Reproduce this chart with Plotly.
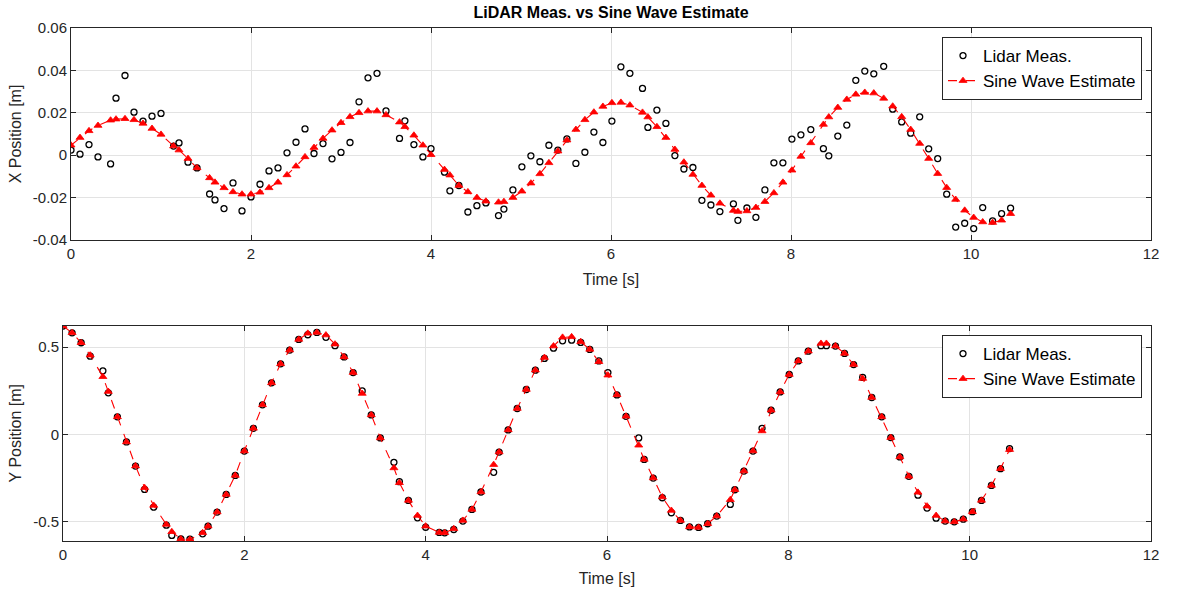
import plotly.graph_objects as go
from plotly.subplots import make_subplots

time_s = [0.00, 0.10, 0.20, 0.30, 0.44, 0.50, 0.60, 0.70, 0.80, 0.90,
          1.00, 1.14, 1.20, 1.30, 1.40, 1.54, 1.60, 1.70, 1.80, 1.90,
          2.00, 2.10, 2.20, 2.30, 2.40, 2.50, 2.60, 2.70, 2.80, 2.90,
          3.00, 3.10, 3.20, 3.30, 3.40, 3.50, 3.65, 3.71, 3.81, 3.91,
          4.00, 4.15, 4.21, 4.31, 4.41, 4.51, 4.61, 4.75, 4.81, 4.91,
          5.01, 5.11, 5.21, 5.31, 5.41, 5.51, 5.61, 5.71, 5.81, 5.91,
          6.01, 6.11, 6.21, 6.35, 6.41, 6.51, 6.61, 6.71, 6.81, 6.91,
          7.01, 7.11, 7.21, 7.36, 7.41, 7.51, 7.61, 7.71, 7.81, 7.91,
          8.01, 8.11, 8.22, 8.36, 8.42, 8.52, 8.62, 8.72, 8.82, 8.92,
          9.03, 9.13, 9.23, 9.33, 9.43, 9.53, 9.63, 9.73, 9.83, 9.93,
          10.03, 10.13, 10.24, 10.34, 10.44]

x_meas = [0.0024, 0.0005, 0.0050, -0.0008, -0.0041, 0.0269, 0.0376, 0.0203, 0.0161, 0.0184,
          0.0197, 0.0043, 0.0058, -0.0033, -0.0060, -0.0183, -0.0211, -0.0252, -0.0131, -0.0263,
          -0.0197, -0.0137, -0.0074, -0.0060, 0.0011, 0.0061, 0.0124, 0.0008, 0.0055, -0.0017,
          0.0013, 0.0060, 0.0252, 0.0365, 0.0386, 0.0209, 0.0079, 0.0162, 0.0050, -0.0008,
          0.0031, -0.0080, -0.0168, -0.0143, -0.0268, -0.0238, -0.0225, -0.0285, -0.0254, -0.0164,
          -0.0055, -0.0003, -0.0031, 0.0047, 0.0024, 0.0077, -0.0039, 0.0014, 0.0109, 0.0060,
          0.0161, 0.0417, 0.0386, 0.0315, 0.0131, 0.0213, 0.0150, -0.0002, -0.0065, -0.0058,
          -0.0213, -0.0235, -0.0266, -0.0230, -0.0307, -0.0249, -0.0293, -0.0164, -0.0036, -0.0036,
          0.0076, 0.0096, 0.0121, 0.0031, -0.0003, 0.0090, 0.0142, 0.0353, 0.0397, 0.0384,
          0.0419, 0.0217, 0.0157, 0.0104, 0.0181, 0.0030, -0.0016, -0.0184, -0.0339, -0.0321,
          -0.0346, -0.0247, -0.0310, -0.0276, -0.0250]

x_est = [0.0047, 0.0083, 0.0115, 0.0140, 0.0165, 0.0170, 0.0172, 0.0167, 0.0150, 0.0126,
         0.0098, 0.0043, 0.0024, -0.0016, -0.0060, -0.0107, -0.0128, -0.0154, -0.0173, -0.0184,
         -0.0184, -0.0175, -0.0154, -0.0128, -0.0093, -0.0052, -0.0008, 0.0036, 0.0079, 0.0118,
         0.0153, 0.0181, 0.0200, 0.0208, 0.0208, 0.0190, 0.0156, 0.0134, 0.0094, 0.0047,
         0.0002, -0.0068, -0.0094, -0.0143, -0.0173, -0.0200, -0.0217, -0.0222, -0.0219, -0.0200,
         -0.0170, -0.0132, -0.0088, -0.0036, 0.0019, 0.0071, 0.0121, 0.0167, 0.0203, 0.0230,
         0.0247, 0.0249, 0.0236, 0.0202, 0.0180, 0.0134, 0.0083, 0.0027, -0.0033, -0.0091,
         -0.0143, -0.0189, -0.0227, -0.0261, -0.0266, -0.0263, -0.0247, -0.0219, -0.0178, -0.0128,
         -0.0071, -0.0006, 0.0058, 0.0145, 0.0180, 0.0225, 0.0263, 0.0287, 0.0296, 0.0293,
         0.0268, 0.0231, 0.0181, 0.0121, 0.0055, -0.0016, -0.0087, -0.0153, -0.0209, -0.0260,
         -0.0294, -0.0315, -0.0318, -0.0307, -0.0276]

y_meas = [0.621, 0.582, 0.525, 0.448, 0.364, 0.238, 0.100, -0.044, -0.182, -0.316,
          -0.418, -0.521, -0.580, -0.600, -0.602, -0.571, -0.527, -0.446, -0.345, -0.236,
          -0.096, 0.034, 0.169, 0.295, 0.404, 0.483, 0.544, 0.571, 0.584, 0.556,
          0.508, 0.444, 0.354, 0.249, 0.111, -0.021, -0.161, -0.272, -0.379, -0.479,
          -0.533, -0.563, -0.565, -0.546, -0.498, -0.431, -0.331, -0.218, -0.102, 0.025,
          0.148, 0.257, 0.368, 0.435, 0.494, 0.536, 0.540, 0.527, 0.487, 0.421,
          0.354, 0.226, 0.103, -0.021, -0.144, -0.251, -0.364, -0.450, -0.494, -0.531,
          -0.534, -0.513, -0.469, -0.402, -0.318, -0.211, -0.096, 0.034, 0.138, 0.243,
          0.343, 0.421, 0.477, 0.508, 0.508, 0.506, 0.464, 0.400, 0.326, 0.211,
          0.100, -0.019, -0.130, -0.241, -0.349, -0.423, -0.481, -0.498, -0.502, -0.487,
          -0.444, -0.379, -0.293, -0.197, -0.082]

y_est = [0.621, 0.582, 0.525, 0.454, 0.330, 0.245, 0.100, -0.044, -0.182, -0.306,
         -0.408, -0.517, -0.559, -0.600, -0.603, -0.565, -0.527, -0.446, -0.345, -0.236,
         -0.096, 0.034, 0.169, 0.295, 0.404, 0.483, 0.544, 0.579, 0.584, 0.569,
         0.517, 0.444, 0.354, 0.234, 0.111, -0.021, -0.193, -0.278, -0.379, -0.466,
         -0.527, -0.563, -0.565, -0.542, -0.494, -0.431, -0.331, -0.174, -0.102, 0.025,
         0.148, 0.257, 0.368, 0.440, 0.506, 0.556, 0.559, 0.531, 0.487, 0.416,
         0.339, 0.226, 0.103, -0.063, -0.144, -0.251, -0.360, -0.437, -0.494, -0.531,
         -0.534, -0.513, -0.469, -0.375, -0.318, -0.211, -0.096, 0.019, 0.138, 0.243,
         0.343, 0.421, 0.477, 0.521, 0.521, 0.506, 0.464, 0.400, 0.320, 0.211,
         0.100, -0.019, -0.130, -0.241, -0.333, -0.412, -0.466, -0.498, -0.502, -0.487,
         -0.444, -0.379, -0.293, -0.197, -0.088]

x_ticks = [0, 2, 4, 6, 8, 10, 12]
top_yticks = [-0.04, -0.02, 0, 0.02, 0.04, 0.06]
top_yticktext = ["-0.04", "-0.02", "0", "0.02", "0.04", "0.06"]
bot_yticks = [-0.5, 0, 0.5]
bot_yticktext = ["-0.5", "0", "0.5"]

FONT = "Liberation Sans, Arial, sans-serif"
AX = "#262626"
W, H = 1178, 593

fig = make_subplots(rows=2, cols=1)

for row, (meas, est, leg) in enumerate([(x_meas, x_est, "legend"), (y_meas, y_est, "legend2")], start=1):
    fig.add_trace(go.Scatter(
        x=time_s, y=meas, mode="markers", name="Lidar Meas.",
        marker=dict(symbol="circle-open", size=6, color="black", line=dict(width=1.3, color="black")),
        legend=leg), row=row, col=1)
    fig.add_trace(go.Scatter(
        x=time_s, y=est, mode="lines+markers", name="Sine Wave Estimate",
        line=dict(color="#ff0000", width=1.1, dash="dash"),
        marker=dict(symbol="triangle-up", size=7, color="#ff0000", line=dict(width=0.8, color="#ff0000")),
        legend=leg), row=row, col=1)

axis_common = dict(
    showline=True, linecolor=AX, linewidth=1, mirror="ticks",
    ticks="inside", ticklen=5, tickcolor=AX, tickwidth=1,
    showgrid=True, gridcolor="#e3e3e3", gridwidth=1, zeroline=False,
    tickfont=dict(family=FONT, size=15, color=AX),
    automargin=False,
)

fig.update_xaxes(**axis_common)
fig.update_yaxes(**axis_common)

title_font = dict(family=FONT, size=16, color=AX)

fig.update_layout(
    width=W, height=H,
    margin=dict(l=0, r=0, t=0, b=0),
    paper_bgcolor="white", plot_bgcolor="white",
    font=dict(family=FONT, color=AX),
    xaxis=dict(domain=[71 / W, 1151 / W], range=[0, 12], tickvals=x_ticks,
               title=dict(text="Time [s]", font=title_font, standoff=12)),
    yaxis=dict(domain=[1 - 240 / H, 1 - 28 / H], range=[-0.04, 0.06],
               tickvals=top_yticks, ticktext=top_yticktext,
               title=dict(text="X Position [m]", font=title_font, standoff=7)),
    xaxis2=dict(domain=[63 / W, 1151 / W], range=[0, 12], tickvals=x_ticks,
                title=dict(text="Time [s]", font=title_font, standoff=10)),
    yaxis2=dict(domain=[1 - 541 / H, 1 - 325.5 / H], range=[-0.612, 0.624],
                tickvals=bot_yticks, ticktext=bot_yticktext,
                title=dict(text="Y Position [m]", font=title_font, standoff=7)),
    legend=dict(x=1142 / W, y=1 - 37 / H, xanchor="right", yanchor="top",
                bgcolor="white", bordercolor=AX, borderwidth=1,
                font=dict(family=FONT, size=17, color="black"),
                tracegroupgap=0, itemwidth=30),
    legend2=dict(x=1142 / W, y=1 - 335 / H, xanchor="right", yanchor="top",
                 bgcolor="white", bordercolor=AX, borderwidth=1,
                 font=dict(family=FONT, size=17, color="black"),
                 tracegroupgap=0, itemwidth=30),
    title=dict(text="<b>LiDAR Meas. vs Sine Wave Estimate</b>", x=611 / W, xanchor="center",
               y=1 - 12 / H, yanchor="middle",
               font=dict(family=FONT, size=16, color="black")),
    showlegend=True,
)

fig.write_html("out.html")
